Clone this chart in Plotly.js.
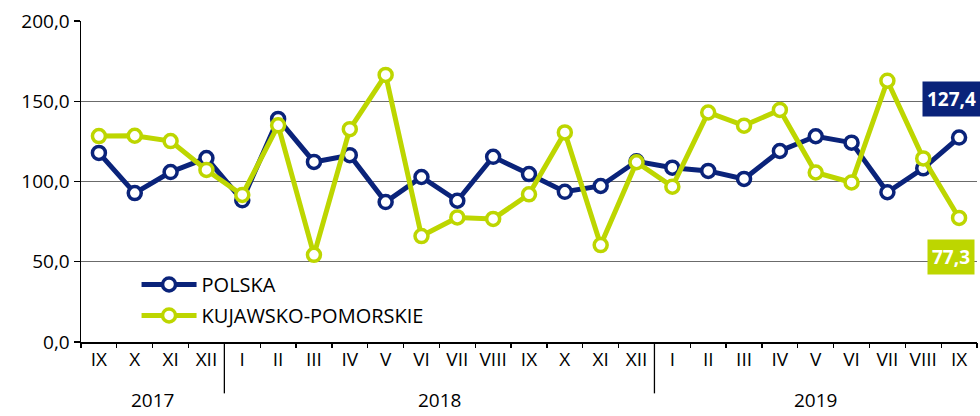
<!DOCTYPE html>
<html>
<head>
<meta charset="utf-8">
<script src="https://cdn.plot.ly/plotly-3.0.1.min.js"></script>
<style>html,body{margin:0;padding:0;background:#fff}#chart{width:980px;height:416px}</style>
</head>
<body>
<div id="chart"></div>
<script>
const months = ["IX","X","XI","XII","I","II","III","IV","V","VI","VII","VIII","IX","X","XI","XII","I","II","III","IV","V","VI","VII","VIII","IX"];
const years  = ["2017","2017","2017","2017","2018","2018","2018","2018","2018","2018","2018","2018","2018","2018","2018","2018","2019","2019","2019","2019","2019","2019","2019","2019","2019"];
const polska = [117.8,92.8,105.9,114.6,88.3,139.0,112.2,116.4,87.2,102.8,88.0,115.4,104.6,93.6,97.2,112.6,108.6,106.6,101.6,119.0,128.2,124.2,93.3,108.2,127.4];
const kujawsko = [128.3,128.5,125.2,107.2,91.6,135.0,54.3,132.6,166.4,66.0,77.6,76.7,92.0,130.6,60.4,112.0,96.8,143.0,134.8,144.6,105.6,99.4,162.8,114.4,77.3];
const yTicks = [0,50,100,150,200];
const yTickText = ["0,0","50,0","100,0","150,0","200,0"];

const NAVY = "#0a237a";
const GREEN = "#bdd600";
const FONT = "Open Sans, sans-serif";

const idx = months.map((_, i) => i);
const bounds = [];
for (let i = 0; i <= months.length; i++) bounds.push(i - 0.5);

function fmt(v){ return v.toFixed(1).replace(".", ","); }

const traces = [
  {x: idx, y: polska, name: "POLSKA", type: "scatter", mode: "lines+markers",
   legendgroup: "a",
   line: {color: NAVY, width: 5},
   marker: {symbol: "circle", size: 13, color: "#ffffff", line: {color: NAVY, width: 3.5}}},
  {x: idx, y: kujawsko, name: "KUJAWSKO-POMORSKIE", type: "scatter", mode: "lines+markers",
   legendgroup: "b",
   line: {color: GREEN, width: 5},
   marker: {symbol: "circle", size: 13, color: "#ffffff", line: {color: GREEN, width: 3.5}}},
  {x: [0], y: [0], xaxis: "x2", yaxis: "y", showlegend: false, hoverinfo: "skip",
   mode: "markers", marker: {opacity: 0}}
];

// year dividers and labels
const shapes = [];
const annotations = [];
let start = 0;
for (let i = 1; i <= years.length; i++) {
  if (i === years.length || years[i] !== years[start]) {
    if (i < years.length) {
      shapes.push({type: "line", xref: "x", yref: "paper", x0: i - 0.5, x1: i - 0.5,
                   y0: 0, y1: -0.16, line: {color: "#000", width: 1.3}});
    }
    annotations.push({xref: "x", yref: "paper", x: (start + i - 1) / 2, y: -0.18,
                      text: years[start], showarrow: false, yanchor: "middle", borderpad: 0,
                      font: {family: FONT, size: 19, color: "#000"}});
    start = i;
  }
}
const last = months.length - 1;
annotations.push({x: last, y: polska[last], xref: "x", yref: "y", text: "<b>" + fmt(polska[last]) + "</b>",
  showarrow: false, bgcolor: NAVY, font: {family: FONT, size: 19, color: "#fff"},
  xshift: -8, yshift: 39, borderpad: 4});
annotations.push({x: last, y: kujawsko[last], xref: "x", yref: "y", text: "<b>" + fmt(kujawsko[last]) + "</b>",
  showarrow: false, bgcolor: GREEN, font: {family: FONT, size: 19, color: "#fff"},
  xshift: -8, yshift: -39, borderpad: 4});

const layout = {
  width: 980, height: 416,
  margin: {l: 81, r: 3, t: 21, b: 74},
  paper_bgcolor: "#fff", plot_bgcolor: "#fff",
  font: {family: FONT, size: 19, color: "#000"},
  showlegend: true,
  legend: {x: 0.062, y: 0.24, xanchor: "left", yanchor: "top", bgcolor: "rgba(0,0,0,0)",
           font: {family: FONT, size: 20, color: "#000"}, itemwidth: 55, tracegroupgap: 2},
  xaxis: {range: [-0.5, months.length - 0.5], tickmode: "array", tickvals: idx, ticktext: months,
          ticks: "", showgrid: false, zeroline: false, showline: true, linecolor: "#000", linewidth: 1.5,
          tickfont: {family: FONT, size: 19, color: "#000"}, fixedrange: true},
  xaxis2: {overlaying: "x", anchor: "y", side: "bottom", range: [-0.5, months.length - 0.5],
           tickmode: "array", tickvals: bounds, ticks: "outside", ticklen: 5, tickwidth: 1.3,
           tickcolor: "#000", showticklabels: false, showgrid: false, zeroline: false, showline: false},
  yaxis: {range: [0, 200], tickmode: "array", tickvals: yTicks, ticktext: yTickText,
          ticks: "outside", ticklen: 6, tickwidth: 1.3, tickcolor: "#000",
          showgrid: true, gridcolor: "#6b6b6b", gridwidth: 1, zeroline: false,
          showline: true, linecolor: "#000", linewidth: 1.5,
          tickfont: {family: FONT, size: 19, color: "#000"}},
  shapes: shapes,
  annotations: annotations
};

Plotly.newPlot("chart", traces, layout, {displayModeBar: false, staticPlot: true});
</script>
</body>
</html>
